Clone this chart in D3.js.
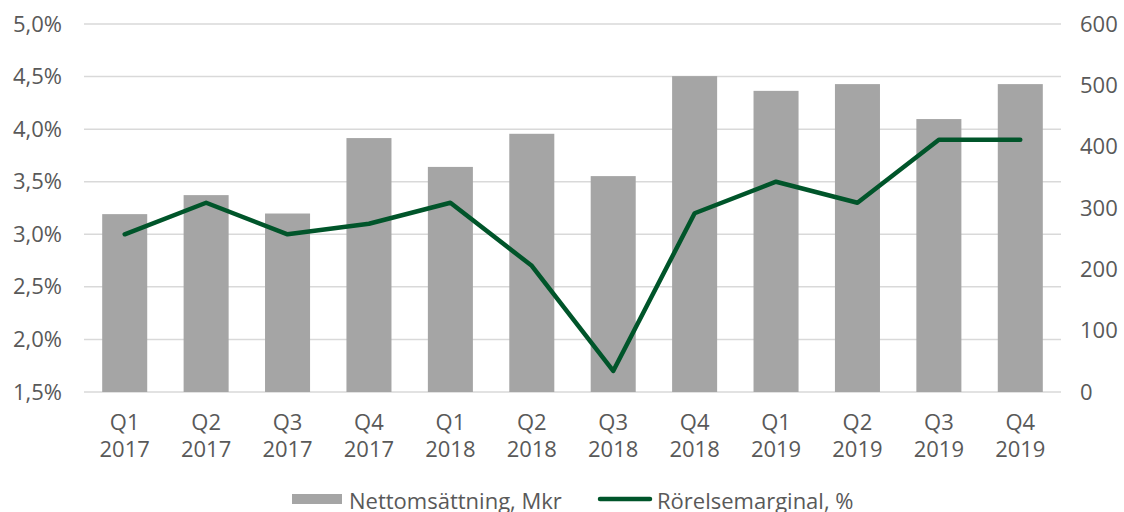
<!DOCTYPE html>
<html>
<head>
<meta charset="utf-8">
<script src="https://cdn.jsdelivr.net/npm/d3@7"></script>
<style>
  html, body { margin: 0; padding: 0; background: #fff; }
  svg { display: block; }
  text { font-family: "Open Sans", "Noto Sans", sans-serif; fill: #595959; }
</style>
</head>
<body>
<svg id="chart" width="1124" height="512"></svg>
<script>
// kvartal
var quarters = ['Q1', 'Q2', 'Q3', 'Q4', 'Q1', 'Q2', 'Q3', 'Q4', 'Q1', 'Q2', 'Q3', 'Q4'];
var years = ['2017', '2017', '2017', '2017', '2018', '2018', '2018', '2018', '2019', '2019', '2019', '2019'];
// Nettomsättning, Mkr (höger axel)
var sales = [290, 321, 291, 414, 367, 421, 352, 515, 491, 502, 445, 502];
// Rörelsemarginal, % (vänster axel)
var margin = [3.0, 3.3, 3.0, 3.1, 3.3, 2.7, 1.7, 3.2, 3.5, 3.3, 3.9, 3.9];
var leftTicks = [1.5, 2.0, 2.5, 3.0, 3.5, 4.0, 4.5, 5.0];
var rightTicks = [0, 100, 200, 300, 400, 500, 600];

(function () {
  var svg = d3.select('#chart');
  // plot area (obs: "top" är reserverat i window, därav prefixen)
  var pLeft = 84, pRight = 1061, pTop = 24, pBottom = 392;

  var cats = quarters.map(function (q, i) { return i; });
  var x = d3.scaleBand().domain(cats).range([pLeft, pRight]).paddingInner(0.447).paddingOuter(0.2235);
  var yL = d3.scaleLinear().domain([1.5, 5.0]).range([pBottom, pTop]);
  var yR = d3.scaleLinear().domain([0, 600]).range([pBottom, pTop]);

  var fmt = function (v) { return d3.format('.1f')(v).replace('.', ',') + '%'; };

  // Rutnät
  svg.append('g')
    .selectAll('line')
    .data(leftTicks)
    .join('line')
    .attr('x1', pLeft).attr('x2', pRight)
    .attr('y1', function (d) { return yL(d); })
    .attr('y2', function (d) { return yL(d); })
    .attr('stroke', '#d9d9d9')
    .attr('stroke-width', 1.5);

  // Vänster axel
  var axL = svg.append('g')
    .attr('transform', 'translate(' + (pLeft - 22) + ',0)')
    .call(d3.axisLeft(yL).tickValues(leftTicks).tickFormat(fmt).tickSize(0).tickPadding(0));
  axL.select('.domain').remove();
  axL.selectAll('text').attr('font-size', 22).attr('fill', '#595959').attr('font-family', null);

  // Höger axel
  var axR = svg.append('g')
    .attr('transform', 'translate(' + (pRight + 19) + ',0)')
    .call(d3.axisRight(yR).tickValues(rightTicks).tickSize(0).tickPadding(0));
  axR.select('.domain').remove();
  axR.selectAll('text').attr('font-size', 22).attr('fill', '#595959').attr('font-family', null);

  // Staplar
  svg.append('g')
    .selectAll('rect')
    .data(sales)
    .join('rect')
    .attr('x', function (d, i) { return x(i); })
    .attr('width', x.bandwidth())
    .attr('y', function (d) { return yR(d); })
    .attr('height', function (d) { return pBottom - yR(d); })
    .attr('fill', '#a5a5a5');

  // Linje
  var line = d3.line()
    .x(function (d, i) { return x(i) + x.bandwidth() / 2; })
    .y(function (d) { return yL(d); });
  svg.append('path')
    .datum(margin)
    .attr('d', line)
    .attr('fill', 'none')
    .attr('stroke', '#00552a')
    .attr('stroke-width', 4.5)
    .attr('stroke-linejoin', 'round')
    .attr('stroke-linecap', 'round');

  // Kategorietiketter
  var lab = svg.append('g')
    .selectAll('text')
    .data(cats)
    .join('text')
    .attr('text-anchor', 'middle')
    .attr('font-size', 22)
    .attr('x', function (d) { return x(d) + x.bandwidth() / 2; });
  lab.append('tspan').attr('y', 430).text(function (d) { return quarters[d]; });
  lab.append('tspan')
    .attr('x', function (d) { return x(d) + x.bandwidth() / 2; })
    .attr('y', 457).text(function (d) { return years[d]; });

  // Legend
  var lg = svg.append('g');
  lg.append('rect').attr('x', 292).attr('y', 494).attr('width', 50).attr('height', 10).attr('fill', '#a5a5a5');
  lg.append('text').attr('x', 349).attr('y', 509).attr('font-size', 22).text('Nettomsättning, Mkr');
  lg.append('line').attr('x1', 600).attr('x2', 650).attr('y1', 499).attr('y2', 499)
    .attr('stroke', '#00552a').attr('stroke-width', 4.5).attr('stroke-linecap', 'round');
  lg.append('text').attr('x', 657).attr('y', 509).attr('font-size', 22).text('Rörelsemarginal, %');
})();
</script>
</body>
</html>
